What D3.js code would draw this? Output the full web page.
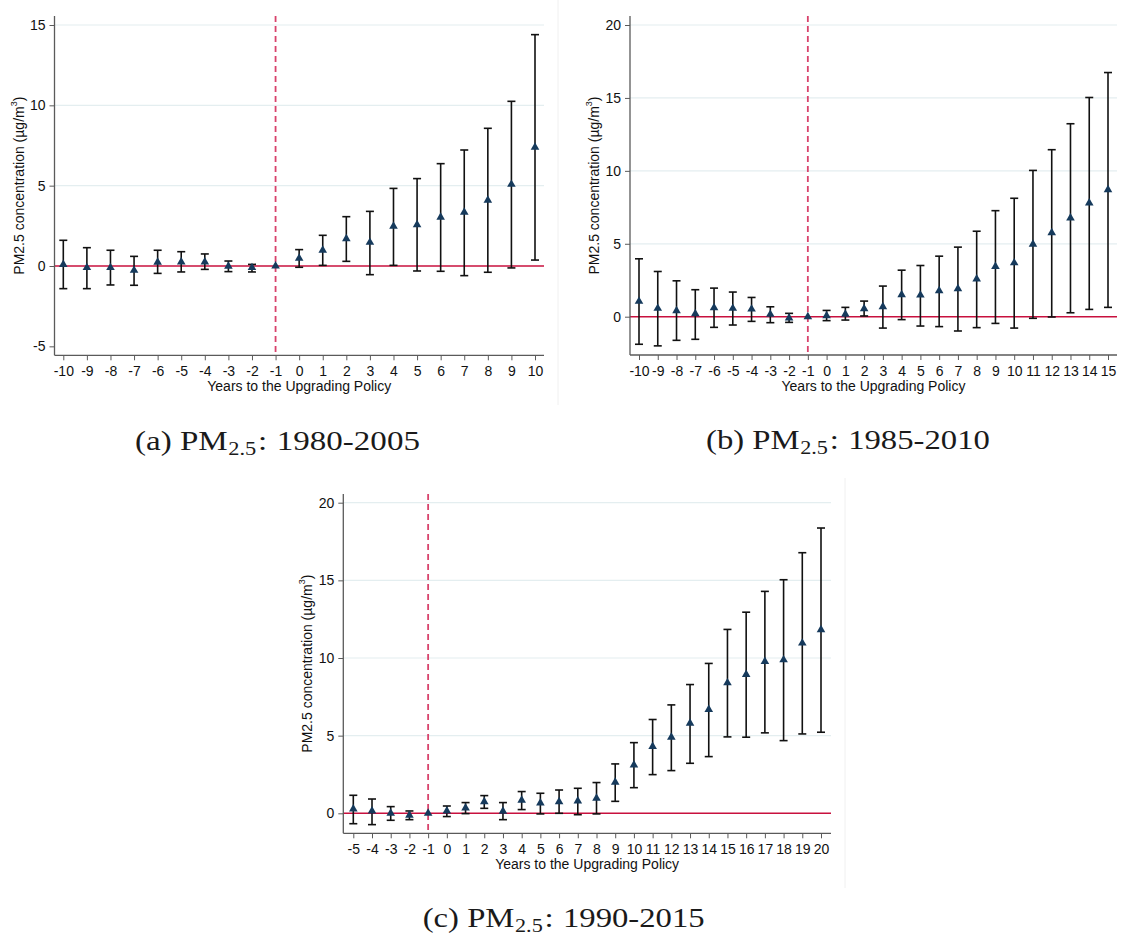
<!DOCTYPE html>
<html>
<head>
<meta charset="utf-8">
<script src="https://cdn.jsdelivr.net/npm/d3@7"></script>
<style>
  html, body { margin: 0; padding: 0; background: #fff; }
  svg { display: block; }
  .tick text { font-family: "Liberation Sans", Arial, sans-serif; font-size: 14px; fill: #111; }
  .axis-title { font-family: "Liberation Sans", Arial, sans-serif; font-size: 14px; fill: #111; }
  .caption { font-family: "Liberation Serif", "Times New Roman", serif; font-size: 28px; fill: #1a1a1a; }
</style>
</head>
<body>
<svg id="chart" width="1125" height="937"></svg>
<script>
// ---- Event-study estimates: PM2.5 concentration relative to year -1 ----

// (a) 1980-2005
const yearsA = [-10,-9,-8,-7,-6,-5,-4,-3,-2,-1,0,1,2,3,4,5,6,7,8,9,10];
const estA = [0.10,-0.10,-0.10,-0.27,0.23,0.25,0.25,-0.02,-0.10,0.00,0.48,0.98,1.70,1.47,2.47,2.57,3.03,3.34,4.09,5.08,7.39];
const loA  = [-1.41,-1.41,-1.18,-1.20,-0.46,-0.37,-0.21,-0.35,-0.37,0.00,-0.08,0.04,0.29,-0.54,0.04,-0.31,-0.33,-0.60,-0.39,-0.12,0.37];
const hiA  = [1.60,1.14,0.98,0.60,0.98,0.89,0.75,0.31,0.10,0.00,1.02,1.91,3.07,3.40,4.83,5.44,6.37,7.22,8.57,10.25,14.40];
const yTicksA = [-5,0,5,10,15];

// (b) 1985-2010
const yearsB = [-10,-9,-8,-7,-6,-5,-4,-3,-2,-1,0,1,2,3,4,5,6,7,8,9,10,11,12,13,14,15];
const estB = [1.05,0.57,0.41,0.20,0.62,0.57,0.52,0.16,-0.09,0.00,0.07,0.17,0.55,0.68,1.50,1.48,1.78,1.92,2.58,3.44,3.69,4.97,5.75,6.77,7.80,8.71];
const loB  = [-1.89,-2.00,-1.62,-1.55,-0.73,-0.57,-0.32,-0.41,-0.39,0.00,-0.27,-0.23,0.05,-0.78,-0.20,-0.64,-0.68,-0.98,-0.75,-0.46,-0.78,-0.11,-0.02,0.27,0.50,0.64];
const hiB  = [3.97,3.10,2.46,1.85,1.96,1.69,1.32,0.68,0.23,0.00,0.43,0.64,1.07,2.10,3.19,3.51,4.15,4.77,5.86,7.27,8.12,10.03,11.45,13.23,15.03,16.74];
const yTicksB = [0,5,10,15,20];

// (c) 1990-2015
const yearsC = [-5,-4,-3,-2,-1,0,1,2,3,4,5,6,7,8,9,10,11,12,13,14,15,16,17,18,19,20];
const estC = [0.28,0.15,0.00,-0.13,0.00,0.15,0.34,0.75,0.13,0.84,0.67,0.75,0.79,0.97,2.00,3.11,4.30,4.90,5.80,6.68,8.40,8.94,9.77,9.88,10.96,11.82];
const loC  = [-0.67,-0.73,-0.45,-0.41,0.00,-0.21,-0.02,0.32,-0.41,0.24,-0.04,0.00,-0.09,-0.04,0.77,1.65,2.49,2.75,3.22,3.65,4.92,4.90,5.18,4.68,5.11,5.22];
const hiC  = [1.16,0.92,0.43,0.15,0.00,0.47,0.69,1.14,0.69,1.40,1.29,1.50,1.61,1.98,3.18,4.55,6.04,6.98,8.29,9.65,11.84,12.95,14.29,15.04,16.78,18.37];
const yTicksC = [0,5,10,15,20];

const xTitle = "Years to the Upgrading Policy";
const policyYear = -1;

const panels = [
  { years: yearsA, est: estA, lo: loA, hi: hiA, yTicks: yTicksA, grid: [5,10,15],
    left: 54.5, right: 544, top: 16, bottom: 355.3,
    xFirstPx: 63.3, xLastPx: 535, yZeroPx: 266, yTopTickPx: 25,
    caption: ["(a) PM", "2.5", ":", "1980-2005"], capX: 135, capY: 450, capW: 285 },
  { years: yearsB, est: estB, lo: loB, hi: hiB, yTicks: yTicksB, grid: [5,10,15,20],
    left: 630, right: 1117, top: 16, bottom: 355,
    xFirstPx: 639, xLastPx: 1108, yZeroPx: 316.7, yTopTickPx: 25,
    caption: ["(b) PM", "2.5", ":", "1985-2010"], capX: 706, capY: 448.5, capW: 284 },
  { years: yearsC, est: estC, lo: loC, hi: hiC, yTicks: yTicksC, grid: [5,10,15,20],
    left: 343.3, right: 831, top: 494, bottom: 833.3,
    xFirstPx: 353.3, xLastPx: 821, yZeroPx: 813.3, yTopTickPx: 502.7,
    caption: ["(c) PM", "2.5", ":", "1990-2015"], capX: 422.7, capY: 926.5, capW: 282 }
];

const svg = d3.select("#chart");

// faint borders between the stacked graph images
svg.append("line").attr("x1", 558).attr("x2", 558).attr("y1", 0).attr("y2", 405)
  .attr("stroke", "#f0f0f0").attr("stroke-width", 1);
svg.append("line").attr("x1", 845).attr("x2", 845).attr("y1", 478).attr("y2", 888)
  .attr("stroke", "#f0f0f0").attr("stroke-width", 1);

const axisColor = "#5a5a5a";

panels.forEach(p => {
  const g = svg.append("g");
  const n = p.years.length;
  const x = d3.scaleLinear()
    .domain([p.years[0], p.years[n - 1]])
    .range([p.xFirstPx, p.xLastPx]);
  const yMax = p.yTicks[p.yTicks.length - 1];
  const y = d3.scaleLinear().domain([0, yMax]).range([p.yZeroPx, p.yTopTickPx]);

  // horizontal gridlines
  g.selectAll(".grid").data(p.grid).join("line")
    .attr("x1", p.left).attr("x2", p.right)
    .attr("y1", d => y(d)).attr("y2", d => y(d))
    .attr("stroke", "#e4eef0").attr("stroke-width", 1.2);

  // zero reference line
  g.append("line")
    .attr("x1", p.left).attr("x2", p.right)
    .attr("y1", y(0)).attr("y2", y(0))
    .attr("stroke", "#c8103e").attr("stroke-width", 1.6);

  // policy year marker
  g.append("line")
    .attr("x1", x(policyYear)).attr("x2", x(policyYear))
    .attr("y1", p.top).attr("y2", p.bottom)
    .attr("stroke", "#d8436c").attr("stroke-width", 1.8)
    .attr("stroke-dasharray", "6,4");

  // confidence intervals
  const rows = p.years.map((yr, i) => ({ yr, est: p.est[i], lo: p.lo[i], hi: p.hi[i] }));
  const ci = g.append("g").attr("stroke", "#111").attr("stroke-width", 1.6);
  rows.filter(d => d.hi !== d.lo).forEach(d => {
    ci.append("line").attr("x1", x(d.yr)).attr("x2", x(d.yr)).attr("y1", y(d.lo)).attr("y2", y(d.hi));
    ci.append("line").attr("x1", x(d.yr) - 4).attr("x2", x(d.yr) + 4).attr("y1", y(d.lo)).attr("y2", y(d.lo));
    ci.append("line").attr("x1", x(d.yr) - 4).attr("x2", x(d.yr) + 4).attr("y1", y(d.hi)).attr("y2", y(d.hi));
  });

  // point estimates
  const tri = d3.symbol().type(d3.symbolTriangle).size(32);
  g.selectAll(".pt").data(rows).join("path")
    .attr("d", tri)
    .attr("transform", d => `translate(${x(d.yr)},${y(d.est)})`)
    .attr("fill", "#163a5c");

  // axes (plain hyphen for negative tick labels)
  const fmt = d => String(d);
  const yAxis = d3.axisLeft(y).tickValues(p.yTicks).tickFormat(fmt).tickSize(5).tickPadding(4);
  const ya = g.append("g").attr("transform", `translate(${p.left},0)`).call(yAxis);
  ya.select(".domain").remove();
  ya.selectAll(".tick line").attr("stroke", axisColor);

  const xAxis = d3.axisBottom(x).tickValues(p.years).tickFormat(fmt).tickSize(5).tickPadding(6);
  const xa = g.append("g").attr("transform", `translate(0,${p.bottom})`).call(xAxis);
  xa.select(".domain").remove();
  xa.selectAll(".tick line").attr("stroke", axisColor);

  g.append("line").attr("x1", p.left).attr("x2", p.left).attr("y1", p.top).attr("y2", p.bottom)
    .attr("stroke", axisColor).attr("stroke-width", 1.3);
  g.append("line").attr("x1", p.left).attr("x2", p.right).attr("y1", p.bottom).attr("y2", p.bottom)
    .attr("stroke", axisColor).attr("stroke-width", 1.3);

  // axis titles
  g.append("text").attr("class", "axis-title")
    .attr("x", (p.left + p.right) / 2).attr("y", p.bottom + 35.7)
    .attr("text-anchor", "middle").text(xTitle);

  const yl = g.append("text").attr("class", "axis-title")
    .attr("text-anchor", "middle")
    .attr("transform", `translate(${p.left - 31},${(p.top + p.bottom) / 2}) rotate(-90)`);
  yl.append("tspan").text("PM2.5 concentration (\u00b5g/m");
  yl.append("tspan").attr("font-size", 9).attr("dy", -7).text("3");
  yl.append("tspan").attr("dy", 7).text(")");

  // caption, widened horizontally to span capW
  const cap = svg.append("text").attr("class", "caption").attr("x", 0).attr("y", 0);
  cap.append("tspan").text(p.caption[0]);
  cap.append("tspan").attr("font-size", 19).attr("dy", 5).attr("dx", 0.5).text(p.caption[1]);
  cap.append("tspan").attr("dy", -5).attr("dx", 1.5).text(p.caption[2]);
  cap.append("tspan").attr("dx", 8).text(p.caption[3]);
  const box = cap.node().getBBox();
  const k = p.capW / (box.x + box.width);
  cap.attr("transform", `translate(${p.capX},${p.capY}) scale(${k},1)`);
});
</script>
</body>
</html>
